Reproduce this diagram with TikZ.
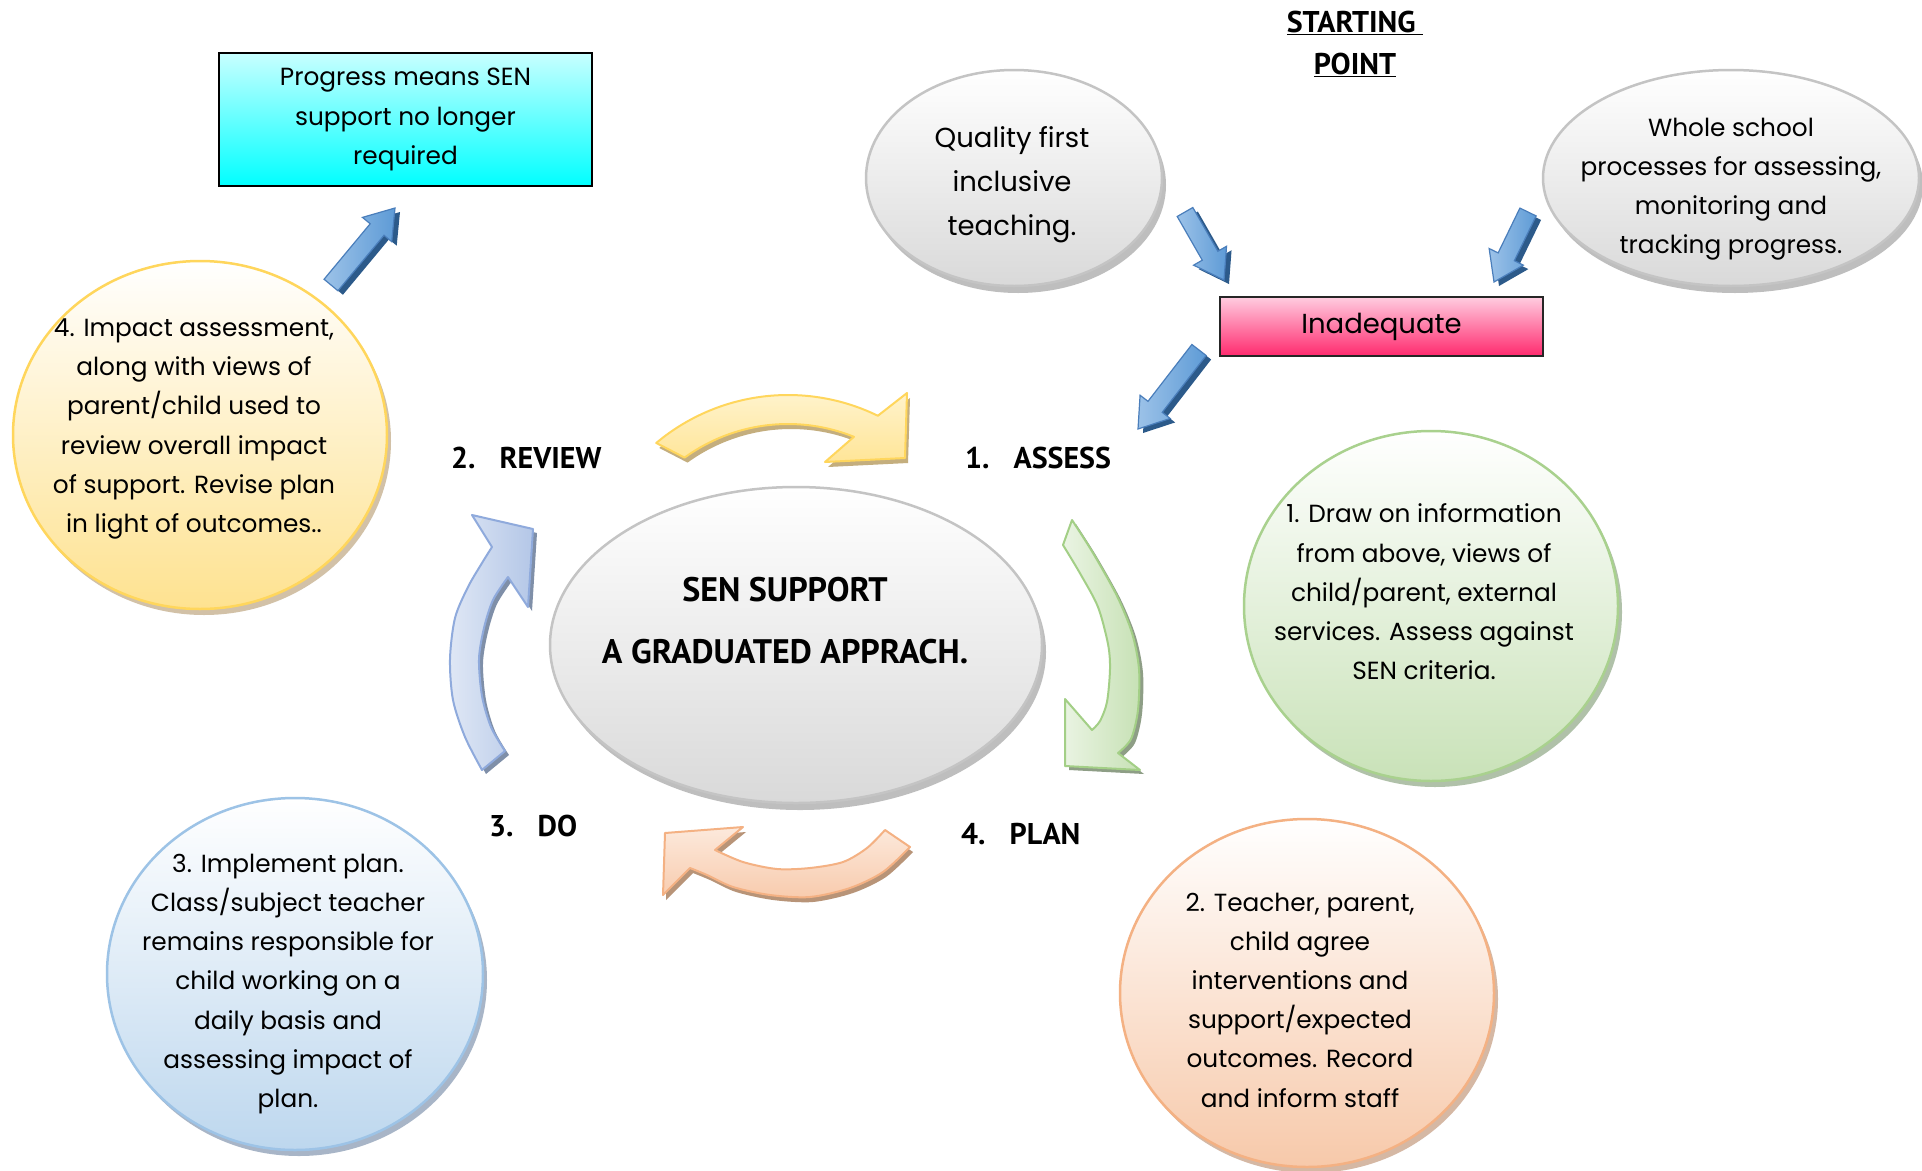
\documentclass[tikz,border=0pt]{standalone}
\usepackage{fontspec}
\setmainfont{Poppins}
\newfontfamily\labfont{PT Sans}
\usetikzlibrary{calc,shapes.geometric}

\definecolor{gEdge}{HTML}{C4C4C4}
\definecolor{gBot}{HTML}{D9D9D9}
\definecolor{gShd}{HTML}{A3A3A3}
\definecolor{yEdge}{HTML}{FFD65C}
\definecolor{yBot}{HTML}{FEE290}
\definecolor{yShd}{HTML}{BFA882}
\definecolor{grEdge}{HTML}{A9D18E}
\definecolor{grBot}{HTML}{C9E2B8}
\definecolor{grShd}{HTML}{8FA885}
\definecolor{oEdge}{HTML}{F4B183}
\definecolor{oBot}{HTML}{F7C9AA}
\definecolor{oShd}{HTML}{C49A7E}
\definecolor{bEdge}{HTML}{9DC3E6}
\definecolor{bBot}{HTML}{BDD7EE}
\definecolor{bShd}{HTML}{8497B0}
\definecolor{cyTop}{HTML}{C8FFFF}
\definecolor{cyBot}{HTML}{00FFFF}
\definecolor{pkTop}{HTML}{FFCCE0}
\definecolor{pkBot}{HTML}{FF2A6E}
\definecolor{arFill}{HTML}{5E9BD6}
\definecolor{arLight}{HTML}{9CC2E8}
\definecolor{arEdge}{HTML}{4A7EBB}
\definecolor{arDark}{HTML}{2C5A8A}
\definecolor{cyA}{HTML}{FFF3CC}
\definecolor{cyB}{HTML}{FFE597}
\definecolor{cyE}{HTML}{FFD65C}
\definecolor{cyS}{HTML}{C4AE7E}
\definecolor{cgA}{HTML}{EAF4E3}
\definecolor{cgB}{HTML}{C7E1B5}
\definecolor{cgE}{HTML}{A3CF86}
\definecolor{cgS}{HTML}{8E9E86}
\definecolor{coA}{HTML}{FCE9DC}
\definecolor{coB}{HTML}{F8CBAD}
\definecolor{coE}{HTML}{F4B183}
\definecolor{coS}{HTML}{B89478}
\definecolor{cbA}{HTML}{DFE7F5}
\definecolor{cbB}{HTML}{B4C7E7}
\definecolor{cbE}{HTML}{8FAADC}
\definecolor{cbS}{HTML}{7F8FA8}

\newcommand\bodyfont{\fontsize{24.8}{39.2}\selectfont}
\newcommand\bigfont{\fontsize{27.5}{44}\selectfont}
\newcommand\labsize{\labfont\bfseries\fontsize{30}{36}\selectfont}

% straight block arrow polygon: tail, tip, head-base
\newcommand\arrowpoly[3]{($(#1)!9pt!90:(#2)$) -- ($(#3)!9pt!-90:(#1)$) -- ($(#3)!19pt!-90:(#1)$) -- (#2) -- ($(#3)!19pt!90:(#1)$) -- ($(#3)!9pt!90:(#1)$) -- ($(#1)!9pt!-90:(#2)$) -- cycle}
\newcommand\blockarrow[2]{%
  \coordinate (ba-b) at ($(#2)!28pt!(#1)$);
  \coordinate (ba-ps) at ($(#1)+(5,4)$);
  \coordinate (ba-qs) at ($(#2)+(5,4)$);
  \coordinate (ba-bs) at ($(ba-b)+(5,4)$);
  \fill[arDark] \arrowpoly{ba-ps}{ba-qs}{ba-bs};
  \shade[left color=arLight, right color=arFill, draw=arEdge, line width=1.2pt] \arrowpoly{#1}{#2}{ba-b};
}

% curved cycle arrows
\newcommand\yellowarc{plot[smooth, variable=\t, domain=-130:-64, samples=25] ({788+205*cos(\t)},{600+205*sin(\t)}) -- (907,393) -- (905,458) -- (825,462) -- plot[smooth, variable=\t, domain=-68:-126, samples=25] ({788+176*cos(\t)},{600+176*sin(\t)}) -- cycle}
\newcommand\greenarc{(1063,545) -- (1072,520) -- plot[smooth] coordinates {(1072,520) (1093,553) (1117,596) (1132,633) (1139,669) (1138,710) (1131,739) (1118,753)} -- (1140,770) -- (1065,766) -- (1065,699) -- plot[smooth] coordinates {(1092,730) (1100,721) (1107,702) (1110,669) (1108,644) (1098,607) (1081,575) (1063,545)} -- cycle}
\newcommand\orangearc{(885,830) -- (910,847) -- plot[smooth] coordinates {(910,847) (883,872) (850,888) (810,897) (770,895) (733,887) (707,875) (690,868)} -- (663,895) -- (665,833) -- (743,827) -- plot[smooth] coordinates {(715,850) (743,862) (777,869) (810,868) (843,862) (867,848) (885,830)} -- cycle}
\newcommand\bluearc{(505,751) -- (482,770) -- plot[smooth] coordinates {(482,770) (465,737) (453,700) (450,659) (455,618) (468,587) (482,563) (492,547)} -- (472,515) -- (533,529) -- (528,607) -- plot[smooth] coordinates {(508,577) (493,600) (484,628) (479,659) (482,696) (491,727) (505,751)} -- cycle}

\tikzset{
  body/.style={font=\bodyfont, align=center, text=black, inner sep=0pt},
  lab/.style={font=\labsize, anchor=west, inner sep=0pt, text=black},
  bubble/.style={ellipse, inner sep=0pt, line width=2.5pt},
}

\begin{document}
\begin{tikzpicture}[x=1pt,y=-1pt]
\useasboundingbox (0,0) rectangle (1922,1170);
\fill[white] (0,0) rectangle (1922,1170);

% ---- shadows of bubbles
\fill[gShd, opacity=.7] (1018,185) ellipse [x radius=148, y radius=108];
\fill[gShd, opacity=.7] (1735,185) ellipse [x radius=188, y radius=108];
\fill[yShd, opacity=.7] (204,441) ellipse [x radius=187, y radius=174];
\fill[gShd, opacity=.7] (800,652) ellipse [x radius=246, y radius=158];
\fill[grShd, opacity=.7] (1435,612) ellipse [x radius=187, y radius=175];
\fill[oShd, opacity=.7] (1311,999) ellipse [x radius=187, y radius=174];
\fill[bShd, opacity=.7] (299,980) ellipse [x radius=188, y radius=176];

% ---- bubbles
\node[bubble, minimum width=296pt, minimum height=216pt, draw=gEdge, top color=white, bottom color=gBot] (qual) at (1014,178) {};
\node[bubble, minimum width=376pt, minimum height=216pt, draw=gEdge, top color=white, bottom color=gBot] (whole) at (1731,178) {};
\node[bubble, minimum width=374pt, minimum height=348pt, draw=yEdge, top color=white, bottom color=yBot] (ycirc) at (200,435) {};
\node[bubble, minimum width=492pt, minimum height=316pt, draw=gEdge, top color=white, bottom color=gBot] (center) at (796,645) {};
\node[bubble, minimum width=374pt, minimum height=350pt, draw=grEdge, top color=white, bottom color=grBot] (gcirc) at (1431,606) {};
\node[bubble, minimum width=374pt, minimum height=348pt, draw=oEdge, top color=white, bottom color=oBot] (ocirc) at (1307,993) {};
\node[bubble, minimum width=376pt, minimum height=352pt, draw=bEdge, top color=white, bottom color=bBot] (bcirc) at (295,974) {};

% ---- boxes
\node[draw=black, line width=2pt, top color=cyTop, bottom color=cyBot, minimum width=373pt, minimum height=133pt, body] (progress) at (405.5,119.5) {Progress means SEN\\support no longer\\required};
\node[draw=black!85, line width=2pt, top color=pkTop, bottom color=pkBot, minimum width=323pt, minimum height=59pt, font=\bigfont, inner sep=0pt] (inad) at (1381.5,326.5) {Inadequate};

% ---- bubble texts
\node[font=\bigfont, align=center, inner sep=0pt] (qualt) at (1012,185) {Quality first\\inclusive\\teaching.};
\node[body] (wholet) at (1731,189) {Whole school\\processes for assessing,\\monitoring and\\tracking progress.};
\node[body] (yt) at (194,429) {4. Impact assessment,\\along with views of\\parent/child used to\\review overall impact\\of support. Revise plan\\in light of outcomes..};
\node[body] (gt) at (1424,592) {1. Draw on information\\from above, views of\\child/parent, external\\services. Assess against\\SEN criteria.};
\node[body] (ot) at (1300,1000) {2. Teacher, parent,\\child agree\\interventions and\\support/expected\\outcomes. Record\\and inform staff};
\node[body] (bt) at (288,984) {3. Implement plan.\\Class/subject teacher\\remains responsible for\\child working on a\\daily basis and\\assessing impact of\\plan.};
\node[font=\labfont\bfseries\fontsize{34}{62}\selectfont, align=center, inner sep=0pt] (ct) at (785,621) {SEN SUPPORT\\A GRADUATED APPRACH.};

% ---- labels
\node[lab] (review) at (451,458) {2.\hspace{24pt}REVIEW};
\node[lab] (assess) at (965,458) {1.\hspace{24pt}ASSESS};
\node[lab] (do) at (489,826) {3.\hspace{24pt}DO};
\node[lab] (plan) at (961,834) {4.\hspace{24pt}PLAN};
\node[font=\labfont\bfseries\fontsize{30}{42}\selectfont, align=center, inner sep=0pt] (start) at (1355,44) {\underline{STARTING\ }\\\underline{POINT}};

% ---- curved cycle arrows
\fill[cyS, shift={(3,5)}] \yellowarc;
\shade[top color=cyA, bottom color=cyB, draw=cyE, line width=2pt, line join=round] \yellowarc;
\fill[cgS, shift={(4,4)}] \greenarc;
\shade[left color=cgA, right color=cgB, draw=cgE, line width=2pt, line join=round] \greenarc;
\fill[coS, shift={(3,5)}] \orangearc;
\shade[top color=coA, bottom color=coB, draw=coE, line width=2pt, line join=round] \orangearc;
\fill[cbS, shift={(4,4)}] \bluearc;
\shade[left color=cbA, right color=cbB, draw=cbE, line width=2pt, line join=round] \bluearc;

% ---- straight block arrows
\coordinate (a1t) at (331,285); \coordinate (a1h) at (395,208);
\coordinate (a2t) at (1185,212); \coordinate (a2h) at (1224,280);
\coordinate (a3t) at (1528,212); \coordinate (a3h) at (1494,282);
\coordinate (a4t) at (1199,350); \coordinate (a4h) at (1138,429);
\blockarrow{a1t}{a1h}
\blockarrow{a2t}{a2h}
\blockarrow{a3t}{a3h}
\blockarrow{a4t}{a4h}
\end{tikzpicture}
\end{document}
